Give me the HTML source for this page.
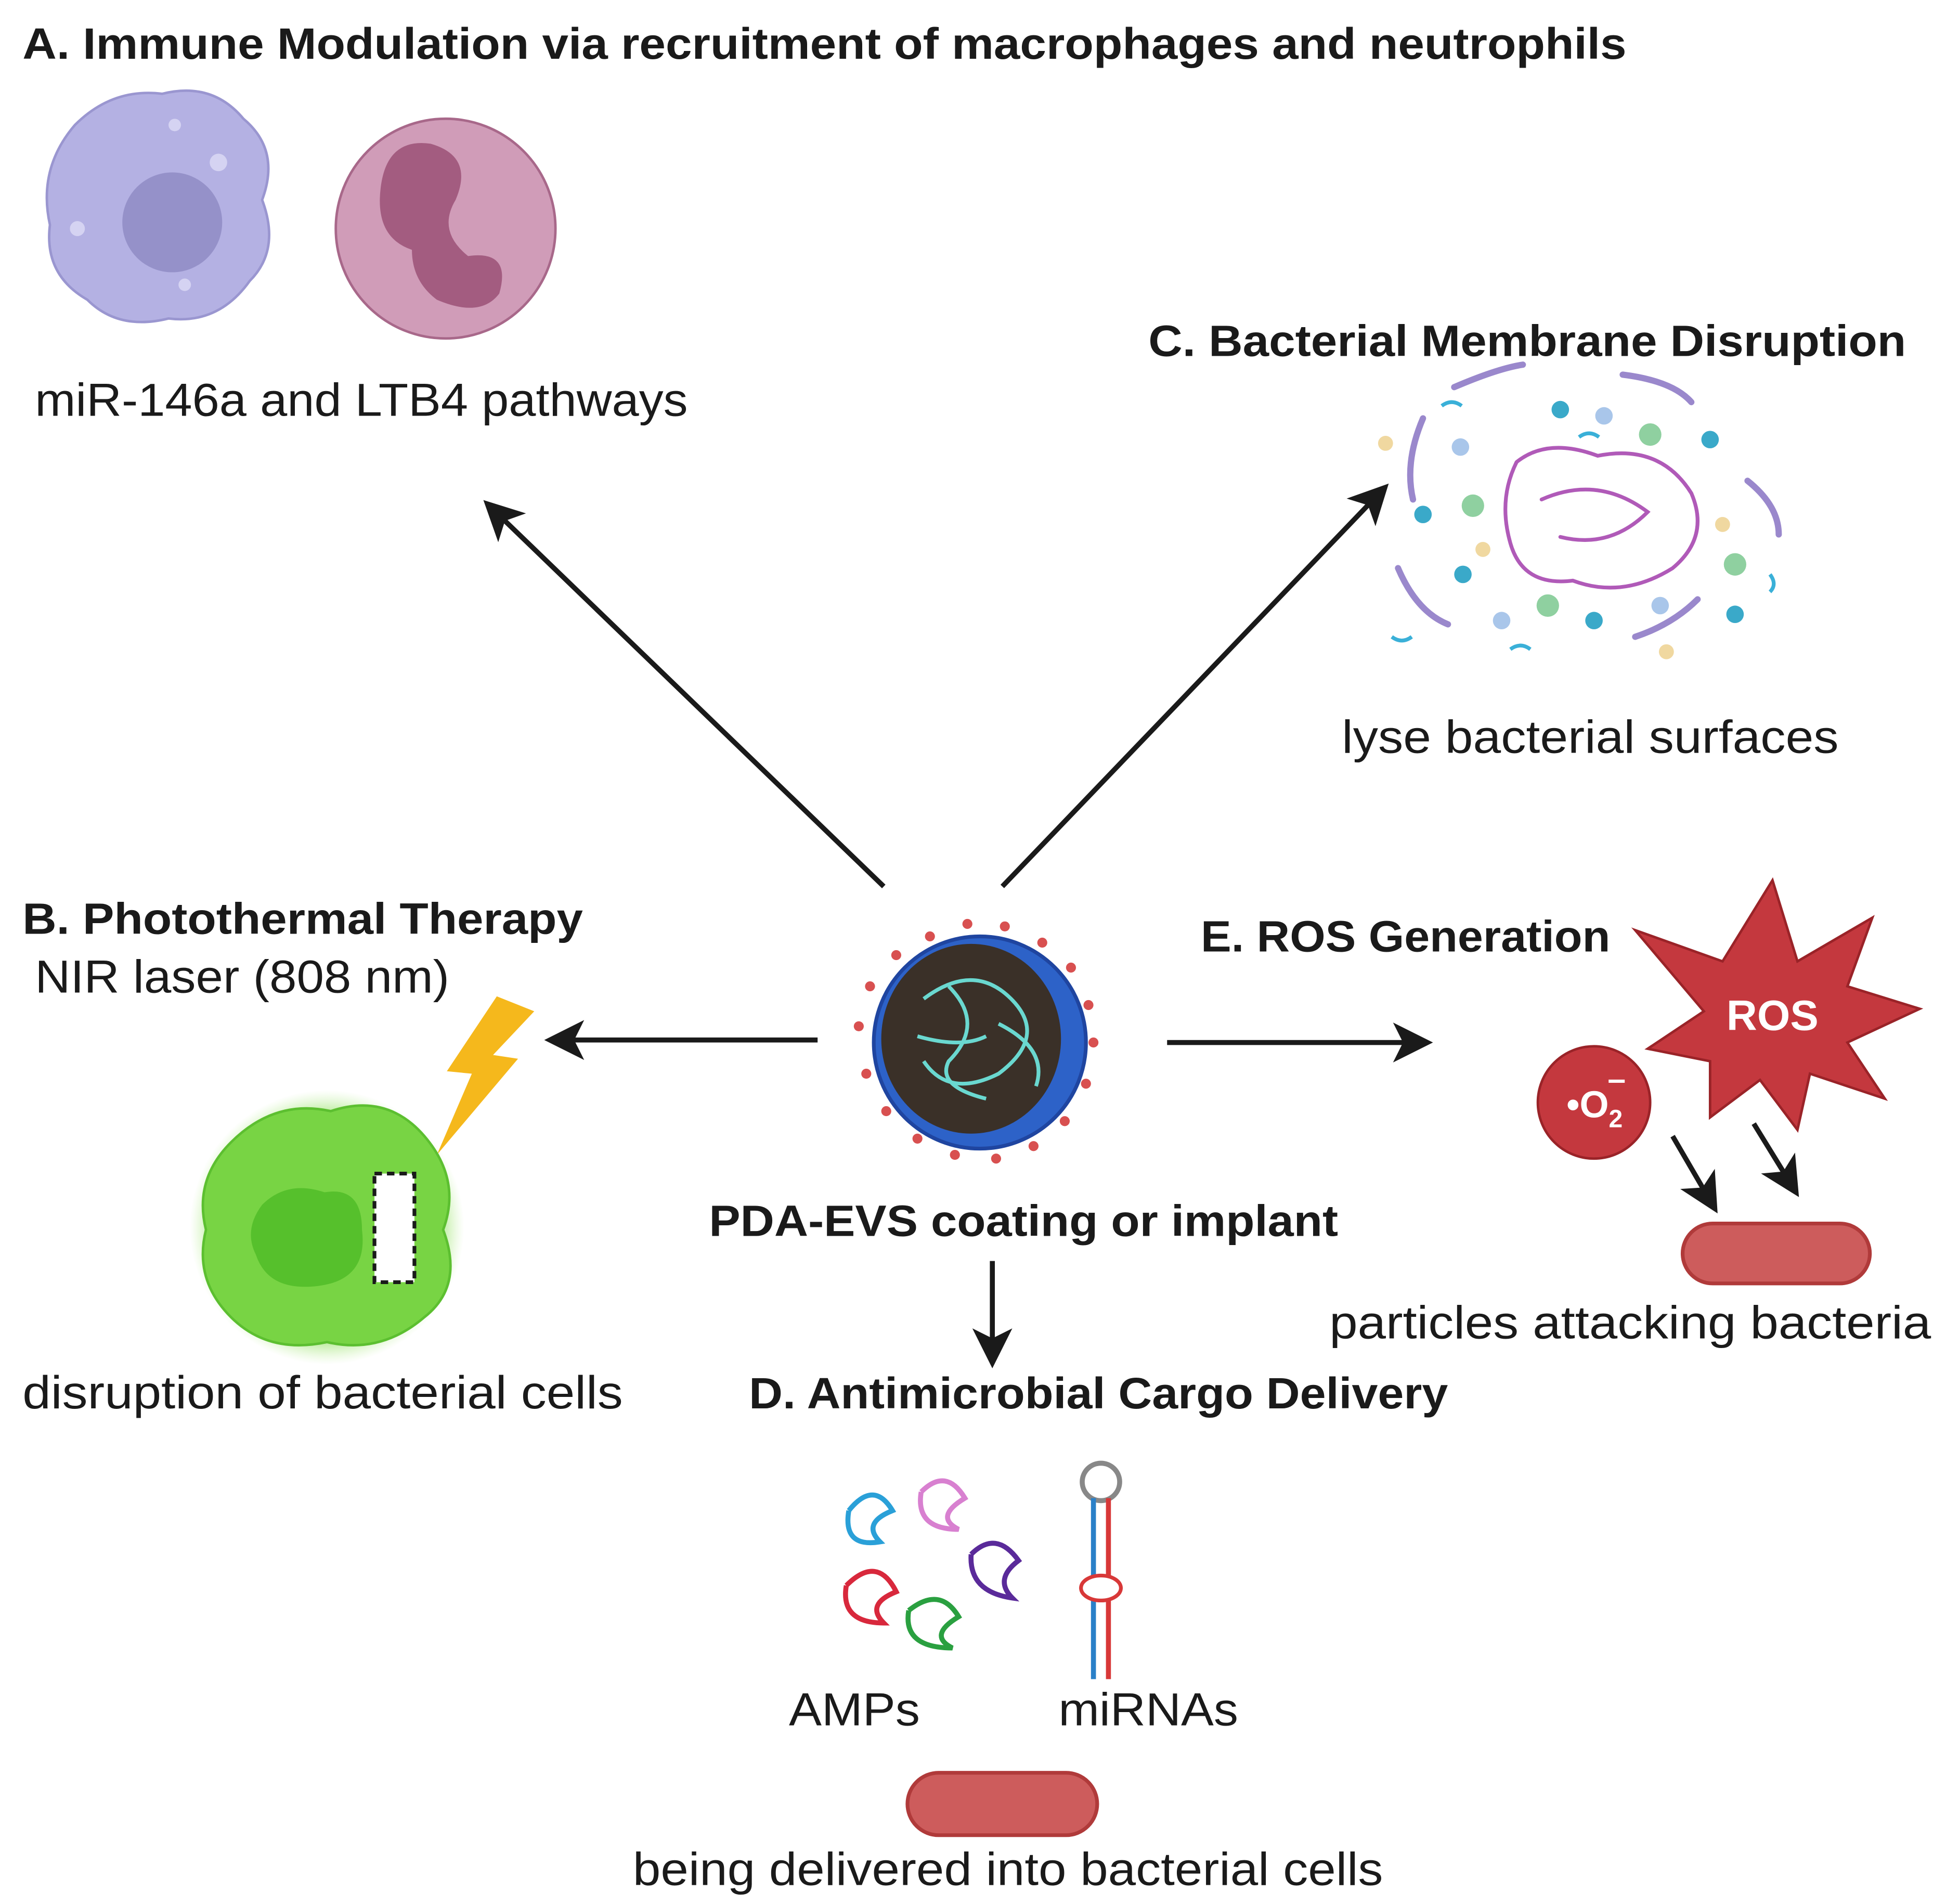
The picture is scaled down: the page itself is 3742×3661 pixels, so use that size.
<!DOCTYPE html>
<html><head><meta charset="utf-8"><style>
html,body{margin:0;padding:0;background:#fff;}
svg{display:block;}
text{font-family:"Liberation Sans",sans-serif;fill:#1a1a1a;}
.t{font-weight:bold;font-size:35px;}
.b{font-size:37px;}
</style></head><body>
<svg width="3742" height="3661" viewBox="0 0 1559 1525" xmlns="http://www.w3.org/2000/svg">
<defs>
<marker id="ah" markerWidth="8" markerHeight="8" refX="6" refY="4" orient="auto" markerUnits="strokeWidth">
<path d="M0,0 L8,4 L0,8 L2,4 z" fill="#1a1a1a"/></marker>
<radialGradient id="glow"><stop offset="0.75" stop-color="#7fd84a"/><stop offset="1" stop-color="#c8f2a8" stop-opacity="0"/></radialGradient>
</defs>

<text class="t" x="18" y="47" textLength="1285" lengthAdjust="spacingAndGlyphs">A. Immune Modulation via recruitment of macrophages and neutrophils</text>
<path d="M60,100 Q90,70 130,75 Q170,65 195,95 Q225,120 210,160 Q225,200 200,225 Q175,260 135,255 Q95,265 70,240 Q35,220 40,180 Q30,135 60,100 Z" fill="#b4b1e3" stroke="#9a96d0" stroke-width="2"/>
<circle cx="138" cy="178" r="40" fill="#9591c9"/>
<circle cx="175" cy="130" r="7" fill="#d5d3f2"/><circle cx="62" cy="183" r="6" fill="#d5d3f2"/><circle cx="140" cy="100" r="5" fill="#d5d3f2"/><circle cx="148" cy="228" r="5" fill="#d5d3f2"/>
<circle cx="357" cy="183" r="88" fill="#d09cb8" stroke="#a8688a" stroke-width="2"/>
<path d="M305,150 Q310,110 345,115 Q380,125 365,160 Q350,185 375,205 Q410,200 400,235 Q385,255 350,240 Q330,225 330,200 Q300,190 305,150 Z" fill="#a35c80"/>
<text class="b" x="28" y="333" textLength="523" lengthAdjust="spacingAndGlyphs">miR-146a and LTB4 pathways</text>

<line x1="708" y1="710" x2="393" y2="406" stroke="#1a1a1a" stroke-width="4" marker-end="url(#ah)"/>
<line x1="803" y1="710" x2="1107" y2="393" stroke="#1a1a1a" stroke-width="4" marker-end="url(#ah)"/>

<text class="t" x="920" y="285" textLength="607" lengthAdjust="spacingAndGlyphs">C. Bacterial Membrane Disruption</text>
<g fill="none" stroke-width="5" stroke-linecap="round">
<path d="M1140,335 Q1125,370 1132,400" stroke="#9a88cc"/>
<path d="M1165,310 Q1200,295 1220,292" stroke="#9a88cc"/>
<path d="M1300,300 Q1340,305 1355,322" stroke="#9a88cc"/>
<path d="M1400,385 Q1425,405 1425,428" stroke="#9a88cc"/>
<path d="M1120,455 Q1135,490 1160,500" stroke="#9a88cc"/>
<path d="M1310,510 Q1340,500 1360,480" stroke="#9a88cc"/>
<path d="M1215,370 Q1240,350 1280,365 Q1330,355 1355,395 Q1370,430 1340,455 Q1300,480 1260,465 Q1220,470 1210,435 Q1200,400 1215,370" stroke="#b05ab8" stroke-width="3"/>
<path d="M1235,400 Q1280,380 1320,410 Q1290,440 1250,430" stroke="#b05ab8" stroke-width="3"/>
</g>
<g fill="#3aa9c9"><circle cx="1250" cy="328" r="7"/><circle cx="1370" cy="352" r="7"/><circle cx="1140" cy="412" r="7"/><circle cx="1172" cy="460" r="7"/><circle cx="1277" cy="497" r="7"/><circle cx="1390" cy="492" r="7"/></g>
<g fill="#8fd0a0"><circle cx="1322" cy="348" r="9"/><circle cx="1180" cy="405" r="9"/><circle cx="1390" cy="452" r="9"/><circle cx="1240" cy="485" r="9"/></g>
<g fill="#a9c6ea"><circle cx="1285" cy="333" r="7"/><circle cx="1170" cy="358" r="7"/><circle cx="1330" cy="485" r="7"/><circle cx="1203" cy="497" r="7"/></g>
<g fill="#f0d8a0"><circle cx="1110" cy="355" r="6"/><circle cx="1380" cy="420" r="6"/><circle cx="1188" cy="440" r="6"/><circle cx="1335" cy="522" r="6"/></g>
<g fill="none" stroke="#3ab0d8" stroke-width="3"><path d="M1155,325 q8,-6 16,0"/><path d="M1265,350 q8,-6 16,0"/><path d="M1418,460 q6,8 0,14"/><path d="M1115,510 q8,6 16,0"/><path d="M1210,520 q8,-6 16,0"/></g>
<text class="b" x="1075" y="603" textLength="398" lengthAdjust="spacingAndGlyphs">lyse bacterial surfaces</text>

<text class="t" x="18" y="748" textLength="449" lengthAdjust="spacingAndGlyphs">B. Photothermal Therapy</text>
<text class="b" x="28" y="795" textLength="332" lengthAdjust="spacingAndGlyphs">NIR laser (808 nm)</text>
<line x1="655" y1="833" x2="444" y2="833" stroke="#1a1a1a" stroke-width="4" marker-end="url(#ah)"/>
<polygon points="398,798 428,810 395,845 415,848 350,925 378,860 358,858" fill="#f5b81c"/>
<circle cx="262" cy="983" r="110" fill="url(#glow)"/>
<path d="M185,915 Q220,880 265,890 Q310,875 340,910 Q370,945 355,985 Q372,1030 340,1055 Q305,1085 262,1075 Q215,1085 185,1055 Q155,1025 165,985 Q155,945 185,915 Z" fill="#78d444" stroke="#5cbf30" stroke-width="2"/>
<path d="M210,965 Q230,945 260,955 Q290,950 290,985 Q295,1025 255,1030 Q215,1035 205,1005 Q195,985 210,965 Z" fill="#56c02c"/>
<rect x="300" y="940" width="32" height="87" fill="#fff" stroke="#1a1a1a" stroke-width="3" stroke-dasharray="6,4"/>
<text class="b" x="18" y="1128" textLength="481" lengthAdjust="spacingAndGlyphs">disruption of bacterial cells</text>

<g fill="#d85050">
<circle cx="745" cy="750" r="4"/><circle cx="775" cy="740" r="4"/><circle cx="805" cy="742" r="4"/><circle cx="835" cy="755" r="4"/><circle cx="858" cy="775" r="4"/><circle cx="872" cy="805" r="4"/><circle cx="876" cy="835" r="4"/><circle cx="870" cy="868" r="4"/><circle cx="853" cy="898" r="4"/><circle cx="828" cy="918" r="4"/><circle cx="798" cy="928" r="4"/><circle cx="765" cy="925" r="4"/><circle cx="735" cy="912" r="4"/><circle cx="710" cy="890" r="4"/><circle cx="694" cy="860" r="4"/><circle cx="688" cy="822" r="4"/><circle cx="697" cy="790" r="4"/><circle cx="718" cy="765" r="4"/></g>
<circle cx="785" cy="835" r="85" fill="#2d62c8" stroke="#1f45a0" stroke-width="3"/>
<ellipse cx="778" cy="832" rx="72" ry="76" fill="#3a3028"/>
<g fill="none" stroke="#6ad8d0" stroke-width="3"><path d="M740,800 Q780,770 810,800 Q840,830 800,860 Q760,880 740,850"/><path d="M760,790 Q790,820 760,850 Q750,870 790,880"/><path d="M800,820 Q840,840 830,870"/><path d="M735,830 Q770,840 790,830"/></g>
<text class="t" x="568" y="990" textLength="504" lengthAdjust="spacingAndGlyphs">PDA-EVS coating or implant</text>
<line x1="795" y1="1010" x2="795" y2="1088" stroke="#1a1a1a" stroke-width="4" marker-end="url(#ah)"/>

<text class="t" x="962" y="762" textLength="328" lengthAdjust="spacingAndGlyphs">E. ROS Generation</text>
<line x1="935" y1="835" x2="1140" y2="835" stroke="#1a1a1a" stroke-width="4" marker-end="url(#ah)"/>
<polygon points="1420,705 1440,770 1500,735 1480,790 1538,808 1480,835 1510,880 1450,860 1440,905 1410,865 1370,895 1370,850 1320,840 1365,810 1310,745 1380,770" fill="#c4383e" stroke="#9a2328" stroke-width="2"/>
<text x="1420" y="825" text-anchor="middle" style="font-weight:bold;font-size:34px;fill:#fff">ROS</text>
<circle cx="1277" cy="883" r="45" fill="#c4383e" stroke="#9a2328" stroke-width="2"/>
<text x="1255" y="895" style="font-weight:bold;font-size:30px;fill:#fff">•O<tspan font-size="20" dy="8">2</tspan><tspan font-size="26" dy="-30" dx="-12">–</tspan></text>
<line x1="1340" y1="910" x2="1372" y2="965" stroke="#1a1a1a" stroke-width="4" marker-end="url(#ah)"/>
<line x1="1405" y1="900" x2="1437" y2="952" stroke="#1a1a1a" stroke-width="4" marker-end="url(#ah)"/>
<rect x="1348" y="980" width="150" height="48" rx="24" fill="#cd5c5c" stroke="#b03a3a" stroke-width="3"/>
<text class="b" x="1065" y="1072" textLength="482" lengthAdjust="spacingAndGlyphs">particles attacking bacteria</text>

<text class="t" x="600" y="1128" textLength="560" lengthAdjust="spacingAndGlyphs">D. Antimicrobial Cargo Delivery</text>
<g fill="none" stroke-width="4">
<path d="M680,1210 q20,-25 35,0 q-25,10 -10,25 q-30,5 -25,-25" stroke="#2aa0d8"/>
<path d="M738,1195 q20,-20 35,5 q-25,15 -5,25 q-35,0 -30,-30" stroke="#d880d0"/>
<path d="M678,1270 q25,-25 40,5 q-25,10 -10,25 q-35,0 -30,-30" stroke="#d8283c"/>
<path d="M728,1290 q25,-20 40,5 q-25,15 -5,25 q-40,0 -35,-30" stroke="#2aa040"/>
<path d="M778,1245 q20,-20 38,5 q-20,15 -5,30 q-35,-5 -33,-35" stroke="#5a2a9a"/>
</g>
<circle cx="882" cy="1187" r="15" fill="none" stroke="#888" stroke-width="4"/>
<line x1="876" y1="1200" x2="876" y2="1345" stroke="#2a80c8" stroke-width="4"/>
<line x1="888" y1="1200" x2="888" y2="1345" stroke="#d83838" stroke-width="4"/>
<ellipse cx="882" cy="1272" rx="16" ry="10" fill="#fff" stroke="#d83838" stroke-width="3"/>
<text class="b" x="632" y="1382" textLength="105" lengthAdjust="spacingAndGlyphs">AMPs</text>
<text class="b" x="848" y="1382" textLength="144" lengthAdjust="spacingAndGlyphs">miRNAs</text>
<rect x="727" y="1420" width="152" height="50" rx="25" fill="#cd5c5c" stroke="#b03a3a" stroke-width="3"/>
<text class="b" x="507" y="1510" textLength="601" lengthAdjust="spacingAndGlyphs">being delivered into bacterial cells</text>
</svg>
</body></html>
